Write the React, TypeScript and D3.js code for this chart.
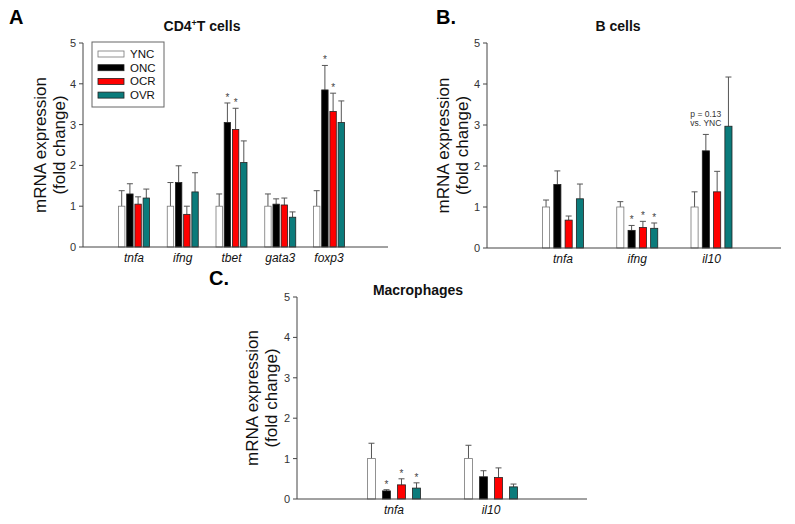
import React from 'react';
import * as d3 from 'd3';

// series
const seriesNames = ['YNC', 'ONC', 'OCR', 'OVR'];
const seriesColors = ['#ffffff', '#000000', '#ff0000', '#0b7b7b'];
const yTicks = [0, 1, 2, 3, 4, 5];

// A. CD4+ T cells
const cd4Genes = ['tnfa', 'ifng', 'tbet', 'gata3', 'foxp3'];
const cd4Mean = [
  [1.0, 1.3, 1.05, 1.2],
  [1.0, 1.58, 0.8, 1.35],
  [1.0, 3.05, 2.88, 2.07],
  [1.0, 1.05, 1.03, 0.73],
  [1.0, 3.85, 3.32, 3.05],
];
const cd4Upper = [
  [1.38, 1.55, 1.23, 1.42],
  [1.58, 1.99, 1.0, 1.82],
  [1.3, 3.53, 3.4, 2.6],
  [1.3, 1.18, 1.2, 0.86],
  [1.38, 4.45, 3.77, 3.58],
];
const cd4Stars = [
  [false, false, false, false],
  [false, false, false, false],
  [false, true, true, false],
  [false, false, false, false],
  [false, true, true, false],
];

// B. B cells
const bGenes = ['tnfa', 'ifng', 'il10'];
const bMean = [
  [1.0, 1.55, 0.68, 1.2],
  [1.0, 0.43, 0.5, 0.48],
  [1.0, 2.37, 1.37, 2.97],
];
const bUpper = [
  [1.17, 1.88, 0.78, 1.56],
  [1.13, 0.55, 0.65, 0.61],
  [1.37, 2.77, 1.87, 4.17],
];
const bStars = [
  [false, false, false, false],
  [false, true, true, true],
  [false, false, false, false],
];

// C. Macrophages
const macGenes = ['tnfa', 'il10'];
const macMean = [
  [1.0, 0.2, 0.35, 0.27],
  [1.0, 0.55, 0.53, 0.3],
];
const macUpper = [
  [1.38, 0.23, 0.5, 0.4],
  [1.33, 0.7, 0.77, 0.37],
];
const macStars = [
  [false, true, true, true],
  [false, false, false, false],
];

const FONT = "Arial, 'Liberation Sans', sans-serif";

interface PanelProps {
  letter: string;
  letterX: number;
  letterY: number;
  title: React.ReactNode;
  titleX: number;
  titleY: number;
  genes: string[];
  mean: number[][];
  upper: number[][];
  stars: boolean[][];
  axisX0: number;
  axisX1: number;
  yTop: number;
  yBottom: number;
  centers: [number, number];
  groupWidth: number;
  barPad: number;
  labelX: number;
  legend?: boolean;
  note?: { gene: number; series: number; lines: string[] };
}

const Panel: React.FC<PanelProps> = (p) => {
  const y = d3.scaleLinear().domain([0, 5]).range([p.yBottom, p.yTop]);
  const x = d3.scalePoint<string>().domain(p.genes).range(p.centers);
  const inner = d3
    .scaleBand<string>()
    .domain(seriesNames)
    .range([-p.groupWidth / 2, p.groupWidth / 2])
    .paddingInner(p.barPad);
  const bw = inner.bandwidth();
  const midY = (p.yTop + p.yBottom) / 2;

  return (
    <g fontFamily={FONT}>
      <text x={p.letterX} y={p.letterY} fontSize={20} fontWeight="bold" fill="#000">
        {p.letter}
      </text>
      <text x={p.titleX} y={p.titleY} fontSize={14} fontWeight="bold" textAnchor="middle" fill="#111">
        {p.title}
      </text>

      {/* y label */}
      <g transform={`translate(${p.labelX},${midY}) rotate(-90)`} fontSize={17} fill="#111" textAnchor="middle">
        <text y={0}>mRNA expression</text>
        <text y={19}>(fold change)</text>
      </g>

      {/* bars */}
      {p.genes.map((g, gi) =>
        seriesNames.map((s, si) => {
          const bx = (x(g) as number) + (inner(s) as number);
          const cx = bx + bw / 2;
          const top = y(p.mean[gi][si]);
          const et = y(p.upper[gi][si]);
          return (
            <g key={g + s}>
              <line x1={cx} x2={cx} y1={top} y2={et} stroke="#555" strokeWidth={1} />
              <line x1={cx - 3} x2={cx + 3} y1={et} y2={et} stroke="#555" strokeWidth={1} />
              <rect
                x={bx}
                y={top}
                width={bw}
                height={p.yBottom - top}
                fill={seriesColors[si]}
                stroke={si === 0 ? '#777' : '#222'}
                strokeWidth={0.8}
              />
              {p.stars[gi][si] && (
                <text x={cx} y={et - 2} fontSize={10} textAnchor="middle" fill="#444">
                  *
                </text>
              )}
            </g>
          );
        })
      )}

      {/* axes */}
      <line x1={p.axisX0} x2={p.axisX0} y1={p.yTop} y2={p.yBottom} stroke="#444" strokeWidth={1} />
      <line x1={p.axisX0} x2={p.axisX1} y1={p.yBottom} y2={p.yBottom} stroke="#444" strokeWidth={1} />
      {yTicks.map((t) => (
        <g key={t}>
          <line x1={p.axisX0 - 4} x2={p.axisX0} y1={y(t)} y2={y(t)} stroke="#444" />
          <text x={p.axisX0 - 7} y={y(t) + 4} fontSize={11} textAnchor="end" fill="#333">
            {t}
          </text>
        </g>
      ))}
      {p.genes.map((g) => (
        <text key={g} x={x(g) as number} y={p.yBottom + 15} fontSize={12} fontStyle="italic" textAnchor="middle" fill="#111">
          {g}
        </text>
      ))}

      {p.note && (
        <g fontSize={8.5} fill="#333" textAnchor="middle">
          {p.note.lines.map((l, i) => (
            <text
              key={l}
              x={(x(p.genes[p.note!.gene]) as number) + (inner(seriesNames[p.note!.series]) as number) + bw / 2}
              y={y(p.upper[p.note!.gene][p.note!.series]) - 17 + i * 9}
            >
              {l}
            </text>
          ))}
        </g>
      )}

      {p.legend && (
        <g>
          <rect x={92} y={42} width={72} height={65} fill="#fff" stroke="#666" strokeWidth={1} />
          {seriesNames.map((s, i) => (
            <g key={s} transform={`translate(98,${54 + i * 13.7})`}>
              <rect x={0} y={-3} width={26} height={6} fill={seriesColors[i]} stroke={i === 0 ? '#777' : '#222'} strokeWidth={0.8} />
              <text x={32} y={4} fontSize={11.5} fill="#111">
                {s}
              </text>
            </g>
          ))}
        </g>
      )}
    </g>
  );
};

const App: React.FC = () => (
  <svg
    width={795}
    height={524}
    viewBox="0 0 795 524"
    style={{ position: 'absolute', left: 0, top: 0, background: '#fff' }}
  >
    <rect width={795} height={524} fill="#fff" />
    <Panel
      letter="A"
      letterX={9}
      letterY={24}
      title={
        <>
          CD4<tspan dy={-5} fontSize={9}>+</tspan>
          <tspan dy={5}>T cells</tspan>
        </>
      }
      titleX={202}
      titleY={31}
      genes={cd4Genes}
      mean={cd4Mean}
      upper={cd4Upper}
      stars={cd4Stars}
      axisX0={83}
      axisX1={388}
      yTop={43}
      yBottom={247}
      centers={[134, 329]}
      groupWidth={31}
      barPad={0.22}
      labelX={46}
      legend
    />
    <Panel
      letter="B."
      letterX={436}
      letterY={24}
      title="B cells"
      titleX={618}
      titleY={31}
      genes={bGenes}
      mean={bMean}
      upper={bUpper}
      stars={bStars}
      axisX0={487}
      axisX1={781}
      yTop={43}
      yBottom={248}
      centers={[563, 711.5]}
      groupWidth={41}
      barPad={0.37}
      labelX={449}
      note={{ gene: 2, series: 1, lines: ['p = 0.13', 'vs. YNC'] }}
    />
    <Panel
      letter="C."
      letterX={209}
      letterY={285}
      title="Macrophages"
      titleX={418}
      titleY={295}
      genes={macGenes}
      mean={macMean}
      upper={macUpper}
      stars={macStars}
      axisX0={297}
      axisX1={587}
      yTop={297}
      yBottom={499}
      centers={[394, 491]}
      groupWidth={53}
      barPad={0.47}
      labelX={258}
    />
  </svg>
);

export default App;
